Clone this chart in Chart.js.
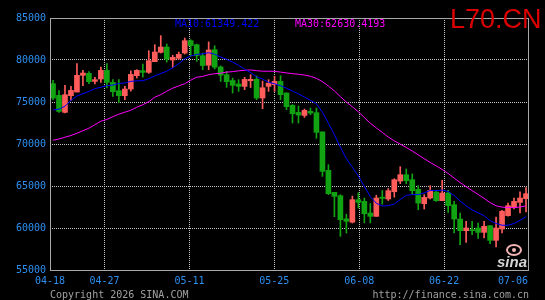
<!DOCTYPE html>
<html>
<head>
<meta charset="utf-8">
<script src="https://cdn.jsdelivr.net/npm/chart.js@4/dist/chart.umd.min.js"></script>
<style>
html, body { margin: 0; padding: 0; background: #000; }
canvas { display: block; }
</style>
</head>
<body>
<canvas id="kline" width="545" height="300"></canvas>
<script>
// one candle per day
const dates = [
    '04-18','04-19','04-20','04-21','04-22','04-23','04-24','04-25','04-26','04-27','04-28','04-29','04-30',
    '05-01','05-02','05-03','05-04','05-05','05-06','05-07','05-08','05-09','05-10','05-11','05-12','05-13',
    '05-14','05-15','05-16','05-17','05-18','05-19','05-20','05-21','05-22','05-23','05-24','05-25','05-26',
    '05-27','05-28','05-29','05-30','05-31',
    '06-01','06-02','06-03','06-04','06-05','06-06','06-07','06-08','06-09','06-10','06-11','06-12','06-13',
    '06-14','06-15','06-16','06-17','06-18','06-19','06-20','06-21','06-22','06-23','06-24','06-25','06-26',
    '06-27','06-28','06-29','06-30',
    '07-01','07-02','07-03','07-04','07-05','07-06'
];
const tickDates = ['04-18', '04-27', '05-11', '05-25', '06-08', '06-22', '07-06'];

const opens = [
    77179, 75790, 73766, 75750, 76187, 78171, 78409, 77457, 77734, 78766,
    77338, 76346, 75750, 76544, 78132, 78727, 78529, 79799, 80910, 81544,
    80000, 80200, 80830, 82298, 81822, 80513, 79380, 81226, 79163, 78250,
    77556, 77139, 76861, 77536, 77700, 75473, 76861, 77060, 77457, 76068,
    74600, 73766, 73400, 73885, 73727, 71445, 66862, 64243, 63846, 61088,
    60690, 63370, 63171, 61783, 61386, 63670, 63450, 64320, 65590, 66346,
    65751, 64600, 62893, 63568, 64282, 63250, 64163, 62775, 61068, 59680,
    59799, 59997, 59481, 60275, 58529, 59878, 61465, 62457, 63052, 63489
];
const highs = [
    77576, 76346, 76980, 76862, 79560, 78766, 78607, 77933, 79163, 79560,
    77655, 77655, 76862, 78700, 78846, 79521, 81108, 81822, 82894, 81902,
    80553, 80949, 82616, 82417, 81900, 80830, 82150, 81702, 79300, 78647,
    77850, 77655, 77933, 78250, 78110, 77497, 77655, 78052, 78131, 76100,
    74700, 74520, 74163, 74282, 74282, 71445, 67537, 64243, 63965, 61644,
    63800, 64200, 63568, 62900, 63900, 64460, 64700, 65870, 67300, 67020,
    66445, 65050, 63964, 65036, 64480, 65671, 64481, 63171, 61783, 60791,
    60791, 60600, 60791, 60300, 61306, 62100, 62973, 63568, 64300, 64800
];
const lows = [
    75274, 73766, 73687, 75195, 76187, 76941, 77179, 77139, 77338, 76663,
    75671, 74957, 75274, 76300, 77854, 77973, 78410, 79799, 80830, 79759,
    79124, 80076, 80711, 80433, 79837, 78848, 78846, 78925, 77457, 76742,
    76068, 76266, 76465, 76722, 75274, 74203, 76266, 76266, 75274, 74084,
    72500, 72496, 73171, 73488, 70670, 66148, 63965, 61346, 59005, 59402,
    60592, 62378, 60630, 60600, 61386, 62840, 63270, 63670, 65275, 65255,
    63965, 62180, 62258, 63449, 63170, 63250, 61862, 59400, 58013, 58291,
    59203, 58750, 58807, 58132, 57735, 59402, 61400, 62259, 61800, 61900
];
const closes = [
    75473, 73885, 75870, 76385, 78171, 78449, 77417, 77655, 78766, 77338,
    76227, 75750, 76544, 78286, 78767, 78529, 79918, 80949, 81544, 80116,
    80314, 80670, 82298, 81720, 80530, 79340, 81190, 79150, 78200, 77420,
    76980, 76862, 77690, 77700, 75473, 76700, 77240, 77457, 75870, 74440,
    73600, 73449, 74004, 73687, 71385, 66743, 64085, 63767, 60989, 60791,
    63370, 63052, 61703, 61386, 63568, 63529, 64442, 65751, 66346, 65632,
    64442, 62973, 63647, 64481, 63250, 64163, 62655, 61068, 59680, 59997,
    59680, 59481, 60195, 58529, 59997, 62000, 62655, 63171, 63568, 64084
];

const ma10 = [
    74048, 74143, 74500, 75190, 75715, 75988, 76262, 76583, 76762, 76941,
    77016, 77203, 77270, 77460, 77520, 77528, 77778, 78107, 78385, 78663,
    79072, 79564, 80139, 80483, 80659, 80740, 80867, 80687, 80353, 80083,
    79750, 79369, 78908, 78506, 78001, 77737, 77342, 77172, 76939, 76641,
    76303, 75962, 75593, 75192, 74783, 73788, 72472, 71103, 69615, 68250,
    67227, 66187, 64957, 63727, 62945, 62624, 62660, 62858, 63394, 63878,
    63985, 63977, 64172, 64481, 64449, 64513, 64334, 63866, 63199, 62636,
    62159, 61810, 61465, 60870, 60545, 60329, 60329, 60539, 60928, 61349.422
];
const ma30 = [
    70453, 70595, 70809, 71012, 71285, 71583, 71881, 72298, 72714, 72929,
    73250, 73548, 73786, 74024, 74381, 74679, 75036, 75572, 75869, 76286,
    76643, 76917, 77179, 77596, 77953, 78048, 78250, 78369, 78429, 78562,
    78613, 78712, 78773, 78816, 78726, 78668, 78662, 78656, 78559, 78462,
    78375, 78298, 78214, 78060, 77814, 77421, 76894, 76321, 75636, 74991,
    74427, 73839, 73153, 72475, 71910, 71383, 70824, 70378, 69983, 69590,
    69172, 68709, 68241, 67800, 67393, 66975, 66489, 65942, 65403, 64921,
    64457, 63992, 63531, 63026, 62646, 62488, 62441, 62421, 62507, 62630.4193
];

const symbol = 'L70.CN';

const UP = '#ff5c5c';
const DOWN = '#12a312';
const MONO = '10px "DejaVu Sans Mono", monospace';
const GRID = '#c8c8c8';

// red when it closed higher, green when lower
const candleColors = closes.map((c, i) => c >= opens[i] ? UP : DOWN);

const frame = {
    id: 'frame',
    beforeDraw(chart) {
        const ctx = chart.ctx;
        ctx.save();
        ctx.fillStyle = '#000';
        ctx.fillRect(0, 0, chart.width, chart.height);
        ctx.restore();
    },
    afterDraw(chart) {
        const ctx = chart.ctx;
        const area = chart.chartArea;
        const xd = chart.scales.xd;
        ctx.save();

        // plot border
        ctx.strokeStyle = '#a8a8a8';
        ctx.lineWidth = 1;
        ctx.strokeRect(Math.round(area.left) + 0.5, Math.round(area.top) + 0.5,
            Math.round(area.right - area.left) - 1, Math.round(area.bottom - area.top));

        // date labels, kept inside the right edge
        ctx.font = MONO;
        ctx.fillStyle = '#2d8ff0';
        ctx.textBaseline = 'middle';
        ctx.textAlign = 'left';
        tickDates.forEach(d => {
            const x = xd.getPixelForValue(dates.indexOf(d));
            const w = ctx.measureText(d).width;
            let left = x - w / 2;
            if (left + w > area.right - 1) left = area.right - 1 - w;
            ctx.fillText(d, left, area.bottom + 11);
        });

        // moving average readouts
        ctx.fillStyle = '#0000ff';
        ctx.fillText('MA10:' + ma10[ma10.length - 1], 175, 24);
        ctx.fillStyle = '#ff00ff';
        ctx.fillText('MA30:' + ma30[ma30.length - 1], 295, 24);

        // footer
        ctx.fillStyle = '#a0a0a0';
        ctx.fillText('Copyright 2026 SINA.COM', 50, 295);
        ctx.textAlign = 'right';
        ctx.fillText('http://finance.sina.com.cn', area.right, 295);

        // symbol
        ctx.textAlign = 'left';
        ctx.textBaseline = 'alphabetic';
        ctx.font = '27px "Liberation Sans", Arial, sans-serif';
        ctx.fillStyle = '#dd0000';
        ctx.fillText(symbol, 450, 28);

        // sina watermark
        ctx.strokeStyle = '#f3b4b4';
        ctx.lineWidth = 2;
        ctx.beginPath();
        ctx.ellipse(514, 250, 7, 5, 0, 0, Math.PI * 2);
        ctx.stroke();
        ctx.fillStyle = '#f3b4b4';
        ctx.beginPath();
        ctx.arc(514, 250, 2, 0, Math.PI * 2);
        ctx.fill();
        ctx.font = 'italic bold 15px "Liberation Sans", Arial, sans-serif';
        ctx.fillStyle = '#d4d4d4';
        ctx.fillText('sina', 497, 267);

        ctx.restore();
    }
};

new Chart(document.getElementById('kline'), {
    type: 'bar',
    data: {
        labels: dates,
        datasets: [
            {
                type: 'line',
                label: 'MA10',
                data: ma10,
                xAxisID: 'x',
                borderColor: '#0000ff',
                borderWidth: 1,
                pointRadius: 0,
                tension: 0,
                order: 0
            },
            {
                type: 'line',
                label: 'MA30',
                data: ma30,
                xAxisID: 'x',
                borderColor: '#ff00ff',
                borderWidth: 1,
                pointRadius: 0,
                tension: 0,
                order: 0
            },
            {
                label: 'body',
                data: opens.map((o, i) => [o, closes[i]]),
                xAxisID: 'x',
                backgroundColor: candleColors,
                borderWidth: 0,
                barThickness: 5,
                minBarLength: 1,
                grouped: false,
                order: 1
            },
            {
                label: 'wick',
                data: lows.map((l, i) => [l, highs[i]]),
                xAxisID: 'x',
                backgroundColor: candleColors,
                borderWidth: 0,
                barThickness: 1,
                grouped: false,
                order: 2
            }
        ]
    },
    options: {
        responsive: false,
        animation: false,
        devicePixelRatio: 1,
        layout: { padding: { left: 16, right: 16, top: 18, bottom: 30 } },
        plugins: {
            legend: { display: false },
            tooltip: { enabled: false }
        },
        scales: {
            x: {
                type: 'category',
                display: false,
                offset: true
            },
            xd: {
                type: 'linear',
                position: 'bottom',
                offset: false,
                min: 0,
                max: dates.length - 1,
                afterBuildTicks: scale => {
                    scale.ticks = tickDates.map(d => ({ value: dates.indexOf(d) }));
                },
                afterFit: scale => { scale.height = 0; },
                grid: {
                    offset: false,
                    color: c => (c.tick && (c.tick.value === 0 || c.tick.value === dates.length - 1)) ? 'rgba(0,0,0,0)' : GRID,
                    lineWidth: 1,
                    drawTicks: false,
                    borderDash: [1, 1]
                },
                border: { display: false, dash: [1, 1] },
                ticks: { display: false }
            },
            y: {
                min: 55000,
                max: 85000,
                afterFit: scale => { scale.width = 34; },
                ticks: {
                    stepSize: 5000,
                    color: '#2d8ff0',
                    font: { family: '"DejaVu Sans Mono", monospace', size: 10 },
                    padding: 4,
                    callback: v => String(v)
                },
                grid: {
                    color: c => (c.tick && (c.tick.value === 55000 || c.tick.value === 85000)) ? 'rgba(0,0,0,0)' : GRID,
                    lineWidth: 1,
                    drawTicks: false,
                    borderDash: [1, 1]
                },
                border: { display: false, dash: [1, 1] }
            }
        }
    },
    plugins: [frame]
});
</script>
</body>
</html>
